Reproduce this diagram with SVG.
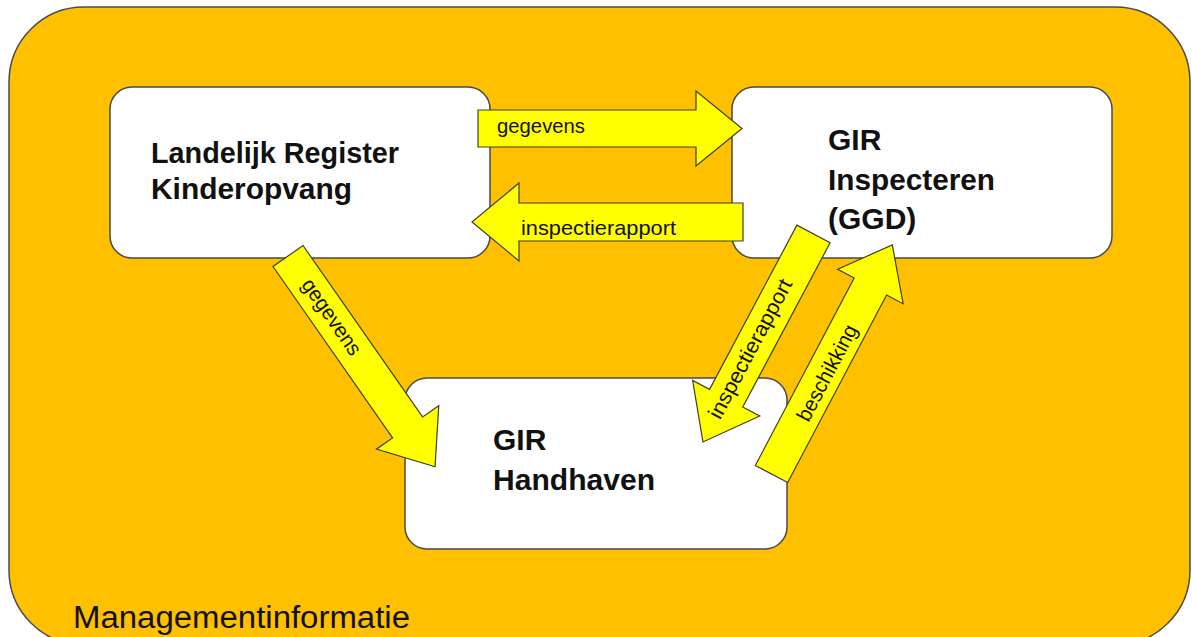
<svg xmlns="http://www.w3.org/2000/svg" width="1192" height="637" viewBox="0 0 1192 637">
<style>
.bg{fill:#FFC000;stroke:#4a4a4a;stroke-width:1.5}
.node{fill:#FFFFFF;stroke:#4a4a4a;stroke-width:1.5}
.arrow{fill:#FFFF00;stroke:#3f3f2a;stroke-width:1.2;stroke-linejoin:miter}
.nt{font-family:"Liberation Sans",Arial,sans-serif;font-weight:bold;font-size:30px;fill:#111}
.at{font-family:"Liberation Sans",Arial,sans-serif;font-size:21px;fill:#111}
.mt{font-family:"Liberation Sans",Arial,sans-serif;font-size:31px;fill:#111}
</style>
<rect class="bg" x="9" y="7" width="1181" height="638" rx="75" ry="75"/>
<text class="mt" x="73" y="628" textLength="337" lengthAdjust="spacingAndGlyphs">Managementinformatie</text>

<g id="node-lrk">
<rect class="node" x="110" y="87" width="380" height="171" rx="22" ry="22"/>
<text class="nt" x="151" y="163" textLength="248" lengthAdjust="spacingAndGlyphs">Landelijk Register</text>
<text class="nt" x="151" y="199" textLength="201" lengthAdjust="spacingAndGlyphs">Kinderopvang</text>
</g>
<g id="node-inspecteren">
<rect class="node" x="732" y="87" width="380" height="171" rx="22" ry="22"/>
<text class="nt" x="828" y="150">GIR</text>
<text class="nt" x="828" y="190" textLength="167" lengthAdjust="spacingAndGlyphs">Inspecteren</text>
<text class="nt" x="828" y="229">(GGD)</text>
</g>
<g id="node-handhaven">
<rect class="node" x="405" y="378" width="382" height="171" rx="22" ry="22"/>
<text class="nt" x="493" y="450">GIR</text>
<text class="nt" x="493" y="490" textLength="162" lengthAdjust="spacingAndGlyphs">Handhaven</text>
</g>

<g id="connectors">
<g transform="translate(478,128.5)">
<polygon class="arrow" points="0,-18.5 218,-18.5 218,-37.5 264,0 218,37.5 218,18.5 0,18.5"/>
</g>
<text class="at" x="497" y="133" textLength="88" lengthAdjust="spacingAndGlyphs">gegevens</text>

<g transform="translate(743,222) rotate(180)">
<polygon class="arrow" points="0,-19 224,-19 224,-39 271,0 224,39 224,19 0,19"/>
</g>
<text class="at" x="521" y="235" textLength="155" lengthAdjust="spacingAndGlyphs">inspectierapport</text>

<g transform="translate(288,256) rotate(55.1)">
<polygon class="arrow" points="0,-18.3 209,-18.3 209,-38 257,0 209,38 209,18.3 0,18.3"/>
<text class="at" x="75" y="6" text-anchor="middle" textLength="88" lengthAdjust="spacingAndGlyphs">gegevens</text>
</g>

<g transform="translate(813.5,234) rotate(118)">
<polygon class="arrow" points="0,-18.8 186,-18.8 186,-38 235.5,0 186,38 186,18.8 0,18.8"/>
</g>
<text class="at" transform="translate(756.5,352) rotate(-62)" x="0" y="0" text-anchor="middle" textLength="155" lengthAdjust="spacingAndGlyphs">inspectierapport</text>

<g transform="translate(771.5,474) rotate(-62.2)">
<polygon class="arrow" points="0,-18.3 212,-18.3 212,-37 259,0 212,37 212,18.3 0,18.3"/>
<text class="at" x="115.5" y="9" text-anchor="middle" textLength="106" lengthAdjust="spacingAndGlyphs">beschikking</text>
</g>
</g>
</svg>
